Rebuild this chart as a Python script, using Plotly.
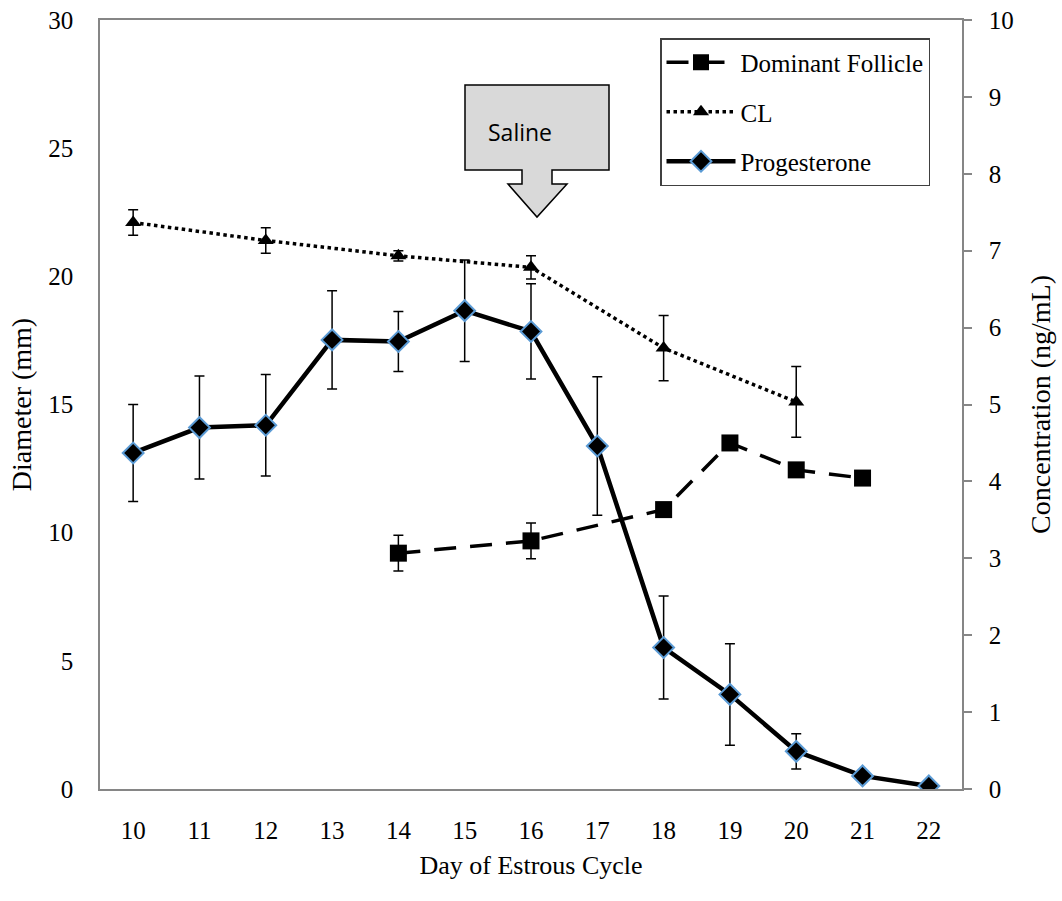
import plotly.graph_objects as go

# ---- data ----
days = [10, 11, 12, 13, 14, 15, 16, 17, 18, 19, 20, 21, 22]

df_days = [14, 16, 18, 19, 20, 21]
df_diam = [9.2, 9.68, 10.9, 13.5, 12.45, 12.13]
df_err = [0.7, 0.7, 0.0, 0.0, 0.0, 0.0]

cl_days = [10, 12, 14, 16, 18, 20]
cl_diam = [22.1, 21.4, 20.8, 20.35, 17.2, 15.1]
cl_err = [0.5, 0.5, 0.2, 0.45, 1.27, 1.38]

p4_conc = [4.37, 4.70, 4.73, 5.84, 5.82, 6.22, 5.95, 4.46, 1.84, 1.23, 0.49, 0.17, 0.04]
p4_err = [0.63, 0.67, 0.66, 0.64, 0.39, 0.66, 0.62, 0.90, 0.67, 0.66, 0.23, 0.0, 0.0]

# ---- layout geometry (pixels) ----
W, H = 1062, 901
L, R, T, B = 100, 100, 20, 112
PW, PH = W - L - R, H - T - B

def px(x):
    return (x - L) / PW

def py(y):
    return (H - B - y) / PH

FONT = "Liberation Serif"

fig = go.Figure()

fig.add_trace(go.Scatter(
    x=df_days, y=df_diam, name="Dominant Follicle", legendgroup="a",
    mode="lines+markers",
    line=dict(color="black", width=3.5, dash="22px,14px"),
    marker=dict(symbol="square", size=17, color="black"),
    error_y=dict(type="data", array=df_err, color="black", thickness=1.5, width=5),
    yaxis="y",
))
fig.add_trace(go.Scatter(
    x=cl_days, y=cl_diam, name="CL", legendgroup="b",
    mode="lines+markers",
    line=dict(color="black", width=3.5, dash="dot"),
    marker=dict(symbol="triangle-up", size=14, color="black"),
    error_y=dict(type="data", array=cl_err, color="black", thickness=1.5, width=5),
    yaxis="y",
))
fig.add_trace(go.Scatter(
    x=days, y=p4_conc, name="Progesterone", legendgroup="c",
    mode="lines+markers",
    line=dict(color="black", width=4.5),
    marker=dict(symbol="diamond", size=16, color="black",
                line=dict(color="#5b9bd5", width=2)),
    error_y=dict(type="data", array=p4_err, color="black", thickness=1.5, width=5),
    yaxis="y2",
))

# Saline arrow (callout shape)
pts = [(465, 85), (609, 85), (609, 170), (552, 170), (552, 184), (567, 184),
       (537, 217), (508, 184), (522, 184), (522, 170), (465, 170)]
path = "M " + " L ".join(f"{px(a):.5f},{py(b):.5f}" for a, b in pts) + " Z"
fig.add_shape(type="path", path=path, xref="paper", yref="paper",
              fillcolor="#d9d9d9", line=dict(color="black", width=1.5), layer="above")
fig.add_annotation(x=px(520), y=py(132), xref="paper", yref="paper", text="Saline",
                   xanchor="center", yanchor="middle",
                   showarrow=False, font=dict(family="Open Sans", size=23, color="black"))

axis_common = dict(showgrid=False, zeroline=False, linecolor="#868686", linewidth=1.5,
                   automargin=False,
                   tickfont=dict(family=FONT, size=25, color="black"))

fig.update_layout(
    width=W, height=H,
    margin=dict(l=L, r=R, t=T, b=B, pad=0, autoexpand=False),
    paper_bgcolor="white", plot_bgcolor="white",
    font=dict(family=FONT, color="black"),
    xaxis=dict(range=[9.5, 22.5], tickmode="array", tickvals=days,
               ticks="", ticklabelstandoff=18, showline=True, mirror=True,
               title=dict(text="Day of Estrous Cycle", font=dict(family=FONT, size=26), standoff=13),
               **axis_common),
    yaxis=dict(range=[0, 30], dtick=5, ticks="", ticklabelstandoff=20, showline=True,
               title=dict(text="Diameter (mm)", font=dict(family=FONT, size=28), standoff=8),
               **axis_common),
    yaxis2=dict(range=[0, 10], dtick=1, overlaying="y", side="right", ticks="outside",
                ticklen=8, tickcolor="#868686", tickwidth=1.5, ticklabelstandoff=12,
                showline=True,
                title=dict(text="Concentration (ng/mL)", font=dict(family=FONT, size=28), standoff=18),
                **axis_common),
    legend=dict(x=px(660), y=py(38), xanchor="left", yanchor="top",
                bordercolor="#404040", borderwidth=1.5, bgcolor="white",
                font=dict(family=FONT, size=25, color="black"),
                traceorder="grouped", tracegroupgap=14, itemwidth=69,
                ),
    showlegend=True,
)

fig.write_html("out.html")
